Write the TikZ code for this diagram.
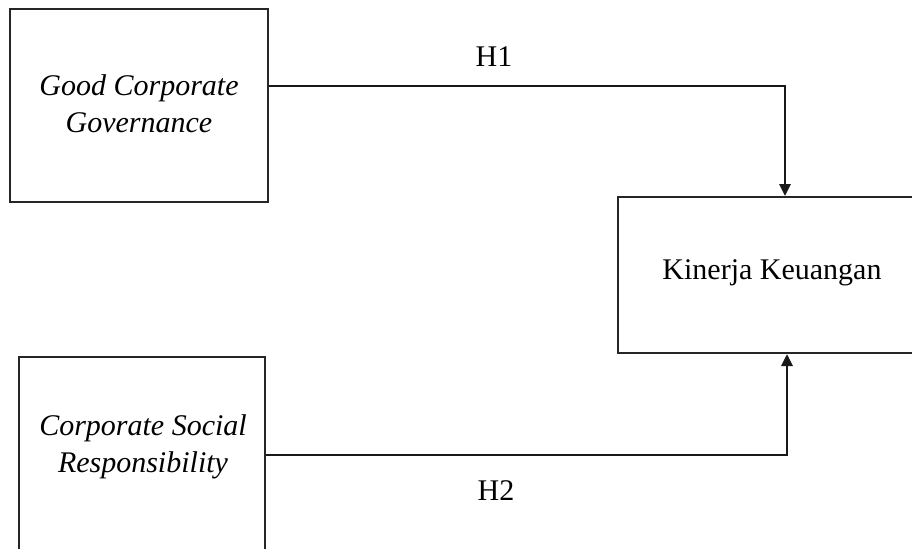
\documentclass[tikz,border=0pt]{standalone}
\usepackage{fontspec}
\setmainfont{Liberation Serif}
\usetikzlibrary{arrows.meta}
\begin{document}
\begin{tikzpicture}[x=0.5pt,y=-0.5pt,
  box/.style={draw=black!85, line width=1pt, fill=white, inner sep=0pt},
  lbl/.style={font=\fontsize{15}{18.5}\selectfont, align=center, inner sep=0pt},
  arr/.style={draw=black!90, line width=1.4pt, -{Triangle[length=6pt,width=5.5pt]}}]
\useasboundingbox (0,0) rectangle (912,548);
\clip (0,0) rectangle (912,548);
\fill[white] (0,0) rectangle (912,548);
% boxes
\node[box, minimum width=129pt, minimum height=96.5pt] (gcg) at (139,105.5) {};
\node[box, minimum width=123pt, minimum height=106.5pt] (csr) at (142,463.5) {};
\node[box, minimum width=154pt, minimum height=78pt] (kk) at (772,275) {};
% texts
\node[lbl, font=\fontsize{15}{18.5}\selectfont\itshape] (gcgt) at (139,104) {Good Corporate\\Governance};
\node[lbl, font=\fontsize{15}{18.5}\selectfont\itshape] (csrt) at (143,447) {Corporate Social\\Responsibility};
\node[lbl] (kkt) at (772,273) {Kinerja Keuangan};
% connectors
\draw[arr] (gcg.east |- 0,86) -| ([xshift=6.5pt]kk.north);
\draw[arr] (csr.east |- 0,455) -| ([xshift=7.5pt]kk.south);
\node[lbl] (h1) at (494,57) {H1};
\node[lbl] (h2) at (496,491) {H2};
\end{tikzpicture}
\end{document}
